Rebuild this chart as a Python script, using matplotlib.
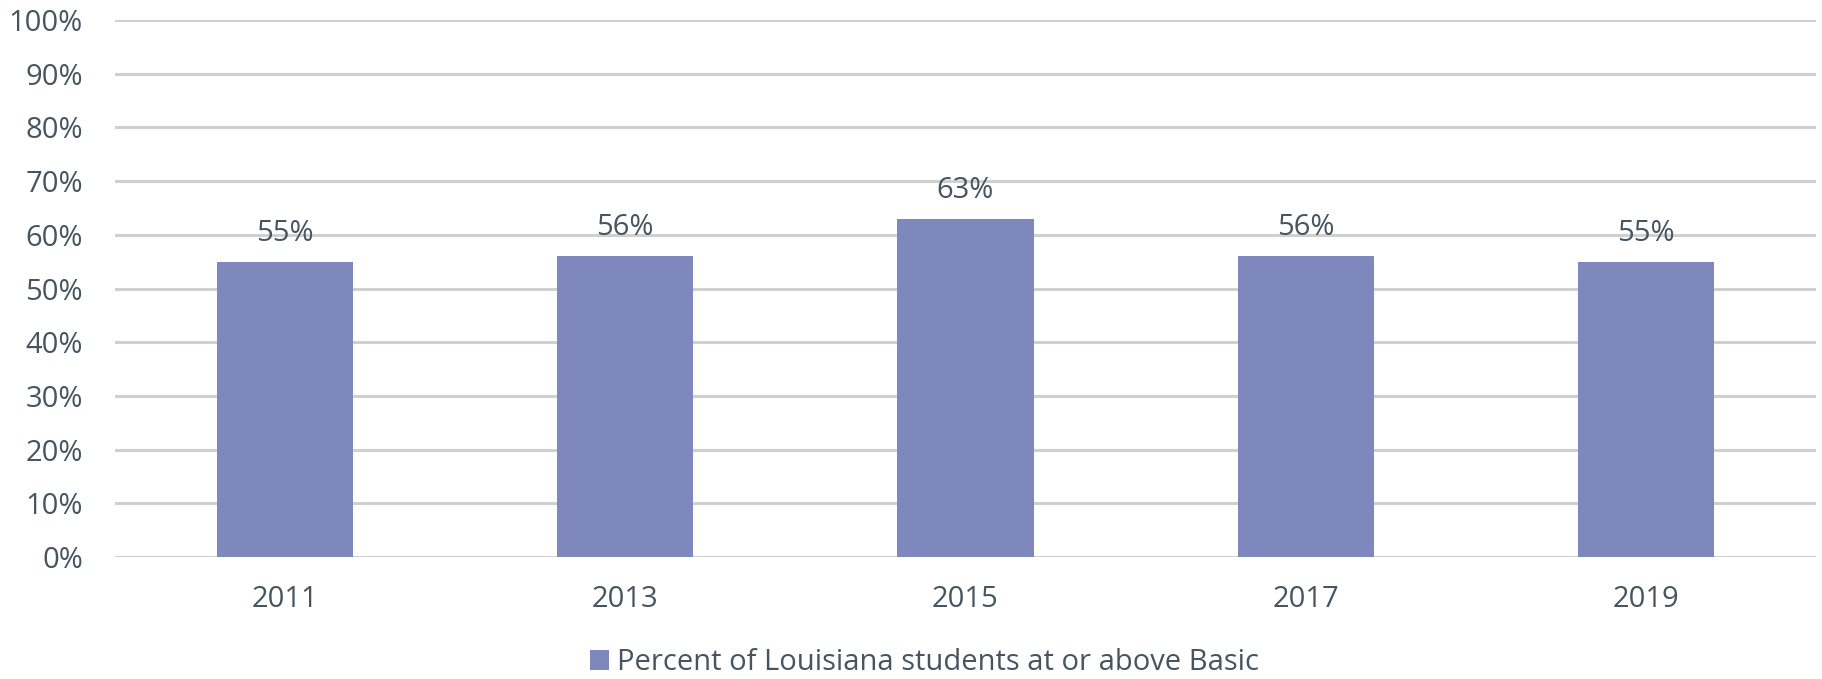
import matplotlib
matplotlib.use("Agg")
import matplotlib.pyplot as plt
from matplotlib.ticker import PercentFormatter

years = ["2011", "2013", "2015", "2017", "2019"]
values = [55, 56, 63, 56, 55]
series_name = "Percent of Louisiana students at or above Basic"

bar_color = "#7F88BD"
text_color = "#46555F"
grid_color = "#D0D0D0"

plt.rcParams['font.family'] = ['Open Sans', 'DejaVu Sans']

fig = plt.figure(figsize=(18.22, 6.79), dpi=100)
ax = fig.add_axes([0.0631, 0.1797, 0.9336, 0.7908])

x = range(len(years))
bars = ax.bar(x, values, width=0.4, color=bar_color, label=series_name, zorder=3)
for xi, v in zip(x, values):
    ax.annotate(f"{v}%", (xi, v), xytext=(0, 10), textcoords="offset points",
                ha="center", va="bottom", fontsize=21, color=text_color)

ax.set_xlim(-0.5, len(years) - 0.5)
ax.set_ylim(0, 100)
ax.set_yticks(range(0, 101, 10))
ax.yaxis.set_major_formatter(PercentFormatter(decimals=0))
ax.set_xticks(list(x))
ax.set_xticklabels(years)
ax.tick_params(axis='both', length=0, labelsize=21, colors=text_color)
ax.tick_params(axis='y', pad=23)
ax.tick_params(axis='x', pad=20)
ax.grid(axis='y', color=grid_color, linewidth=2.2, zorder=0)
for s in ax.spines.values():
    s.set_visible(False)

leg = fig.legend(handles=[bars], labels=[series_name], loc='center',
                 bbox_to_anchor=(0.5075, 0.024), frameon=False, fontsize=21,
                 handlelength=0.65, handleheight=0.65, handletextpad=0.28,
                 borderpad=0.1)
for t in leg.get_texts():
    t.set_color(text_color)

fig.savefig("out.png", dpi=100)
